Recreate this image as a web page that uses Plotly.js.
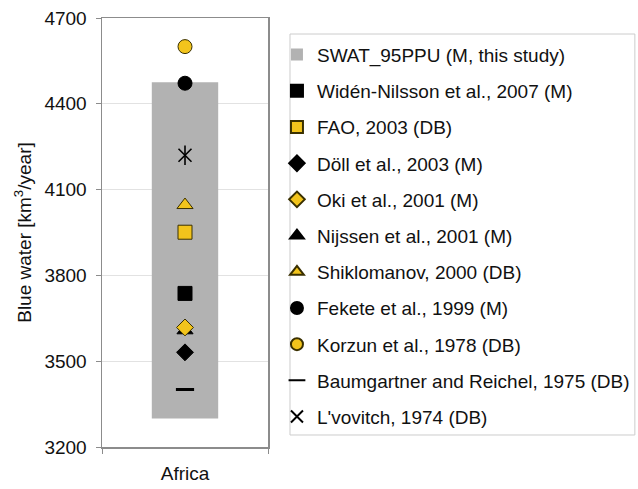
<!DOCTYPE html>
<html><head><meta charset="utf-8">
<script src="https://cdn.plot.ly/plotly-3.0.1.min.js"></script>
<style>html,body{margin:0;padding:0;background:#fff}#chart{width:638px;height:489px}</style>
</head><body><div id="chart"></div>
<script>
const category = ['Africa'];
const rangeName = 'SWAT_95PPU (M, this study)';
const rangeLower = [3300];
const rangeUpper = [4475];
const studyNames = [
  'Widén-Nilsson et al., 2007 (M)',
  'FAO, 2003 (DB)',
  'Döll et al., 2003 (M)',
  'Oki et al., 2001 (M)',
  'Nijssen et al., 2001 (M)',
  'Shiklomanov, 2000 (DB)',
  'Fekete et al., 1999 (M)',
  'Korzun et al., 1978 (DB)',
  'Baumgartner and Reichel, 1975 (DB)',
  "L'vovitch, 1974 (DB)"
];
const studyValues = [3737, 3951, 3531, 3618, 3608, 4046, 4472, 4600, 3401, 4220];
const studySymbols = ['square','square','diamond','diamond','triangle-up','triangle-up','circle','circle','line-ew-open','x-thin-open'];
const studyFills = ['#000000','#F2C41C','#000000','#F2C41C','#000000','#F2C41C','#000000','#F2C41C','#000000','#000000'];
const studySizes = [14,14,13,13,14,14,14,14,13,13];
const drawOrder = [0,1,2,4,3,5,6,7,8,9];

const traces = [];
traces.push({
  type:'bar', x:category, y:[rangeUpper[0]-rangeLower[0]], base:rangeLower,
  name:rangeName, width:0.4, marker:{color:'#B2B2B2', line:{width:0}},
  legendgroup:'g0', legendrank:1, hoverinfo:'skip'
});
drawOrder.forEach(i=>{
  const sym = studySymbols[i];
  const isLine = sym.endsWith('-open');
  const yellow = studyFills[i] !== '#000000';
  traces.push({
    type:'scatter', mode:'markers', x:category, y:[studyValues[i]],
    name:studyNames[i], legendgroup:'g'+(i+1), legendrank:i+2,
    marker:{symbol:sym, size:studySizes[i], color:studyFills[i],
      line:{color: isLine ? '#000000' : (yellow ? '#3a3000' : '#000000'), width: isLine ? (sym==='line-ew-open'?3:1.6) : 1}}
  });
  if (sym === 'x-thin-open') {
    traces.push({
      type:'scatter', mode:'markers', x:category, y:[studyValues[i]],
      name:studyNames[i], legendgroup:'g'+(i+1), showlegend:false,
      marker:{symbol:'line-ns-open', size:studySizes[i]+1, color:'#000', line:{color:'#000', width:1.6}}
    });
  }
});

const font = 'Liberation Sans, Arial, sans-serif';
const layout = {
  width:638, height:489,
  margin:{l:102, r:370, t:18, b:42, autoexpand:false},
  paper_bgcolor:'#fff', plot_bgcolor:'#fff',
  font:{family:font, size:19, color:'#111'},
  showlegend:true,
  xaxis:{type:'category', tickson:'boundaries', ticks:'outside', ticklen:5, tickcolor:'#8c8c8c',
    showline:true, linecolor:'#8c8c8c', linewidth:1.5, mirror:true, showgrid:false,
    tickfont:{size:19}, ticklabelstandoff:9, fixedrange:true},
  yaxis:{range:[3200,4700], dtick:300, tick0:3200, ticks:'outside', ticklen:5, tickcolor:'#8c8c8c',
    showline:true, linecolor:'#8c8c8c', linewidth:1.5, mirror:true,
    showgrid:true, gridcolor:'#e2e2e2', gridwidth:1, zeroline:false,
    tickfont:{size:19}, ticklabelstandoff:5,
    title:{text:'Blue water [km<sup>3</sup>/year]', font:{size:19}, standoff:8}},
  legend:{x:1.054, xanchor:'left', y:0.9587, yanchor:'top', traceorder:'grouped',
    tracegroupgap:8.5, font:{size:19}, bgcolor:'rgba(0,0,0,0)', borderwidth:0, itemsizing:'constant'},
  shapes:[{type:'rect', xref:'paper', yref:'paper', x0:1.1325, x1:3.21, y0:0.028, y1:0.9627,
    line:{color:'#cccccc', width:1}, fillcolor:'rgba(0,0,0,0)', layer:'below'}]
};
Plotly.newPlot('chart', traces, layout, {displayModeBar:false, staticPlot:true});
</script></body></html>
